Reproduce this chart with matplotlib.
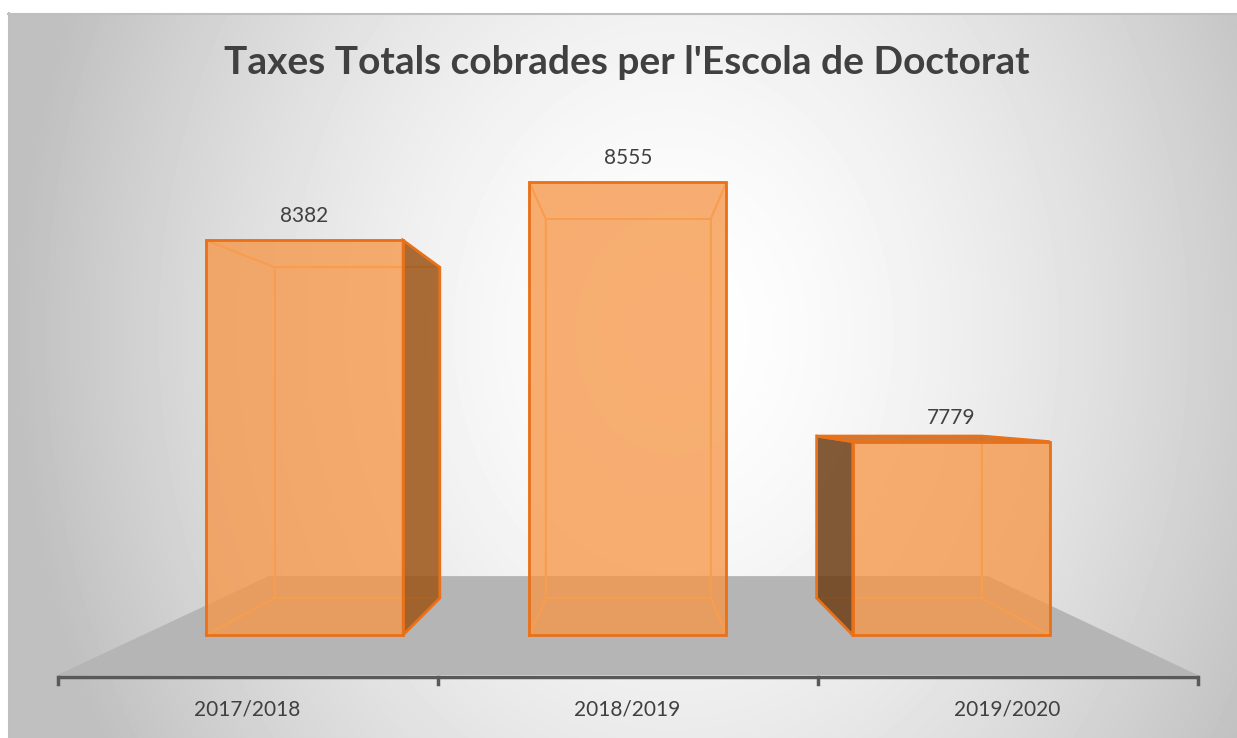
import numpy as np
import matplotlib.pyplot as plt
from matplotlib.patches import Polygon

categories = ['2017/2018', '2018/2019', '2019/2020']
values = [8382, 8555, 7779]
title = "Taxes Totals cobrades per l'Escola de Doctorat"

W, H = 1237, 738
BASE = 7200          # value axis minimum
CAT_PX = 380         # pixels per category on the front plane
CAT1_X = 627.5       # pixel x of the middle category
BASE_Y = 675         # pixel y of the front floor edge
UNIT_PX = 0.3925     # pixels per value unit on the front plane

# perspective: vanishing point (in data units) and depths
VX = 1 + (630 - CAT1_X) / CAT_PX
VY = BASE + (BASE_Y - 407) / UNIT_PX
F_FRONT, F_BACK, F_FLOOR = 0.149, 0.287, 0.369
HW = 0.3046

ORANGE = '#F79646'
EDGE_DARK = '#E8711A'
EDGE_LIGHT = '#F9A65A'
TXT = '#404040'
FONT = ['Lato', 'DejaVu Sans']


def proj(c, v, f):
    return (c + (VX - c) * f, v + (VY - v) * f)


fig = plt.figure(figsize=(W / 100, H / 100), dpi=100)
fig.patch.set_facecolor('white')

# chart area background, radial gradient
bg = fig.add_axes([8 / W, 0, 1 - 8 / W, (H - 13) / H])
yy, xx = np.mgrid[0:H - 13, 0:W - 8]
d = np.hypot((xx - 665) / 660, (yy - 320) / 820)
g = 1 - 0.25 * np.clip(d, 0, 1) ** 1.6
bg.imshow(g, cmap='gray', vmin=0, vmax=1, aspect='auto', interpolation='bilinear')
bg.axis('off')
fig.add_artist(plt.Line2D([8 / W, 1], [1 - 13.5 / H] * 2, color='#BFBFBF', lw=1.5))
fig.add_artist(plt.Line2D([8.5 / W] * 2, [0, 1 - 13 / H], color='#BFBFBF', lw=1.5))

ax = fig.add_axes([0, 0, 1, 1])
ax.patch.set_alpha(0)
ax.set_xlim(1 - CAT1_X / CAT_PX, 1 + (W - CAT1_X) / CAT_PX)
ax.set_ylim(BASE - (H - BASE_Y) / UNIT_PX, BASE + BASE_Y / UNIT_PX)
ax.axis('off')

# floor
lo, hi = -0.5, len(categories) - 0.5
floor = [proj(lo, BASE, 0), proj(hi, BASE, 0), proj(hi, BASE, F_FLOOR), proj(lo, BASE, F_FLOOR)]
ax.add_patch(Polygon(floor, closed=True, facecolor='#B5B5B5', edgecolor='none', zorder=1))

# category axis
ax.plot([lo, hi], [BASE - 2 / UNIT_PX] * 2, color='#595959', lw=2.5, zorder=2, solid_capstyle='butt')
for t in np.arange(lo, hi + 0.5):
    ax.plot([t, t], [BASE - 2 / UNIT_PX, BASE - 9 / UNIT_PX], color='#595959', lw=2.5, zorder=2)
for i, lab in enumerate(categories):
    ax.text(i, BASE - 35 / UNIT_PX, lab, ha='center', va='center', fontsize=15, color=TXT, family=FONT)


def face(pts, fc, alpha, ec, lw, z):
    ax.add_patch(Polygon(pts, closed=True, facecolor=fc, alpha=alpha, edgecolor='none', zorder=z))
    xs = [p[0] for p in pts] + [pts[0][0]]
    ys = [p[1] for p in pts] + [pts[0][1]]
    ax.plot(xs, ys, color=ec, lw=lw, zorder=z + 0.5, solid_joinstyle='miter')


for i, v in enumerate(values):
    l, r = i - HW, i + HW
    fl_b, fr_b, fr_t, fl_t = (proj(l, BASE, F_FRONT), proj(r, BASE, F_FRONT),
                              proj(r, v, F_FRONT), proj(l, v, F_FRONT))
    bl_b, br_b, br_t, bl_t = (proj(l, BASE, F_BACK), proj(r, BASE, F_BACK),
                              proj(r, v, F_BACK), proj(l, v, F_BACK))
    # face points, and whether it is seen from outside
    faces = {
        'back': ([bl_b, br_b, br_t, bl_t], False),
        'left': ([fl_b, fl_t, bl_t, bl_b], VX < l),
        'right': ([fr_b, fr_t, br_t, br_b], VX > r),
        'top': ([fl_t, fr_t, br_t, bl_t], VY > v),
        'bottom': ([fl_b, fr_b, br_b, bl_b], VY < BASE),
    }
    # inside faces first, seen through the front
    for name, (pts, outside) in faces.items():
        if not outside:
            face(pts, ORANGE, 0.5, EDGE_LIGHT, 1.3, 3)
    for name, (pts, outside) in faces.items():
        if outside:
            col = {'left': '#553010', 'right': '#8C4A10', 'top': '#B8601A'}.get(name, '#8C4A10')
            face(pts, col, 0.72, EDGE_DARK, 2, 5)
    face([fl_b, fr_b, fr_t, fl_t], ORANGE, 0.52, EDGE_DARK, 2, 6)

    lx, ly = proj(i, v, F_FRONT)
    ax.annotate(str(v), (lx, ly), xytext=(0, 24), textcoords='offset pixels',
                ha='center', va='center', fontsize=15, color=TXT, family=FONT)

fig.text(627 / W, 1 - 63 / H, title, ha='center', va='center', fontsize=28,
         fontweight='bold', color=TXT, family=FONT)

fig.savefig('out.png', dpi=100)
